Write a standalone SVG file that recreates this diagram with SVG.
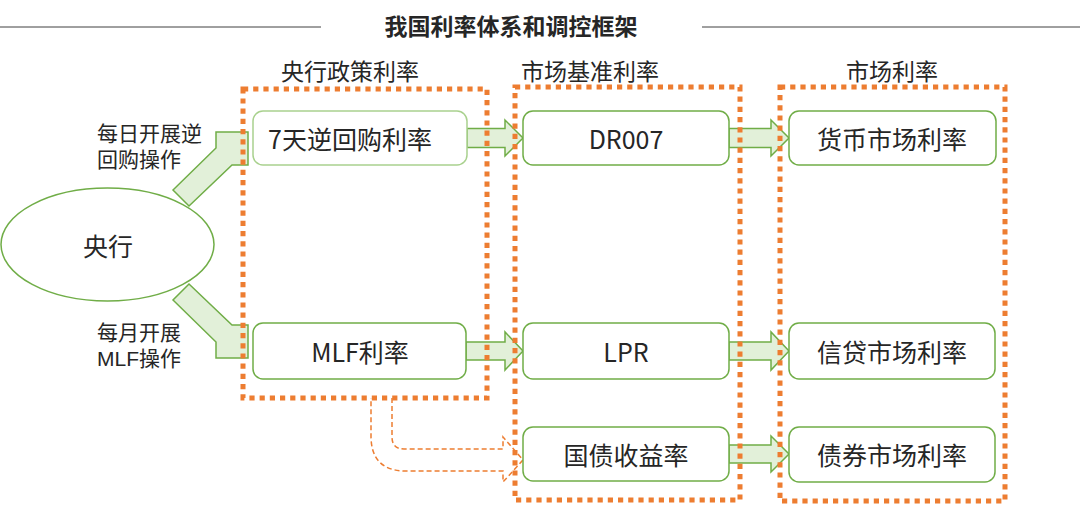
<svg xmlns="http://www.w3.org/2000/svg" width="1080" height="505" viewBox="0 0 1080 505">
<style>
text{font-family:"Noto Sans CJK SC","Microsoft YaHei","Noto Sans",sans-serif;fill:#262626;dominant-baseline:central}
.node{fill:#fff;stroke:#70AD47;stroke-width:1.5}
.light{stroke:#A9D18E}
.t25{font-size:25px;text-anchor:middle}
.hdr{font-size:23px;text-anchor:middle}
.lbl{font-size:21px;font-family:"Liberation Sans","Noto Sans CJK SC",sans-serif}
.barr{fill:#E2F0D9;stroke:#70AD47;stroke-width:1.5;stroke-linejoin:miter}
.dot{fill:none;stroke:#ED7D31;stroke-width:5;stroke-dasharray:5.2 5}
.dash{fill:none;stroke:#ED7D31;stroke-width:1.5;stroke-dasharray:5 3}
</style>
<rect width="1080" height="505" fill="#fff"/>
<g id="title">
<line x1="0" y1="27" x2="321" y2="27" stroke="#404040" stroke-width="1"/>
<line x1="702" y1="27" x2="1080" y2="27" stroke="#404040" stroke-width="1"/>
<text x="511" y="25" style="font-size:23px;font-weight:bold;text-anchor:middle">我国利率体系和调控框架</text>
</g>
<g id="headers">
<text class="hdr" x="350" y="70">央行政策利率</text>
<text class="hdr" x="590" y="70">市场基准利率</text>
<text class="hdr" x="892" y="70">市场利率</text>
</g>
<g id="connectors">
<path class="barr" d="M173,190 L216,148 L216,132 L248,132 L248,165 L232,165 L189,206 Z"/>
<path class="barr" d="M173,300 L216,342 L216,358 L248,358 L248,325 L232,325 L189,284 Z"/>
<path class="barr" d="M467,128.5 H505 V120 L523,138 L505,156 V147.5 H467 Z"/>
<path class="barr" d="M729,128.5 H771 V120 L789,138 L771,156 V147.5 H729 Z"/>
<path class="barr" d="M466,342 H505 V332 L523,351 L505,370 V360 H466 Z"/>
<path class="barr" d="M729,342 H771 V332 L789,351 L771,370 V360 H729 Z"/>
<path class="barr" d="M729,445 H771 V436 L789,454 L771,472 V463 H729 Z"/>
<path class="dash" d="M392,398 V437 Q392,449 404,449 H503 V437 L523,460 L503,482 V471 H406 Q371,471 371,436 V398"/>
</g>
<g id="groups">
<rect class="dot" x="243" y="89" width="244" height="309"/>
<rect class="dot" x="515" y="87" width="225" height="413"/>
<rect class="dot" x="780" y="87" width="225" height="414"/>
</g>
<g id="n-central">
<ellipse class="node" cx="107.5" cy="244.5" rx="106.5" ry="56.5"/>
<text class="t25" x="108" y="245">央行</text>
</g>
<g id="n-lbl1">
<text class="lbl" x="97" y="133">每日开展逆<tspan x="97" dy="26">回购操作</tspan></text>
</g>
<g id="n-lbl2">
<text class="lbl" x="97" y="332">每月开展<tspan x="97" dy="26">MLF操作</tspan></text>
</g>
<g id="n-repo">
<rect class="node light" x="253" y="111" width="214" height="54" rx="10"/>
<text class="t25" x="350" y="138">7天逆回购利率</text>
</g>
<g id="n-mlf">
<rect class="node" x="253" y="323" width="213" height="56" rx="10"/>
<text class="t25" x="360" y="351">MLF利率</text>
</g>
<g id="n-dr007">
<rect class="node" x="523" y="111" width="206" height="54" rx="10"/>
<text class="t25" x="626" y="138">DR007</text>
</g>
<g id="n-lpr">
<rect class="node" x="523" y="323" width="206" height="56" rx="10"/>
<text class="t25" x="626" y="351">LPR</text>
</g>
<g id="n-gov">
<rect class="node" x="523" y="427" width="206" height="54" rx="10"/>
<text class="t25" x="626" y="454">国债收益率</text>
</g>
<g id="n-money">
<rect class="node" x="789" y="111" width="207" height="54" rx="10"/>
<text class="t25" x="892" y="138">货币市场利率</text>
</g>
<g id="n-credit">
<rect class="node" x="789" y="323" width="206" height="56" rx="10"/>
<text class="t25" x="892" y="351">信贷市场利率</text>
</g>
<g id="n-bond">
<rect class="node" x="789" y="427" width="206" height="55" rx="10"/>
<text class="t25" x="892" y="454">债券市场利率</text>
</g>
</svg>
